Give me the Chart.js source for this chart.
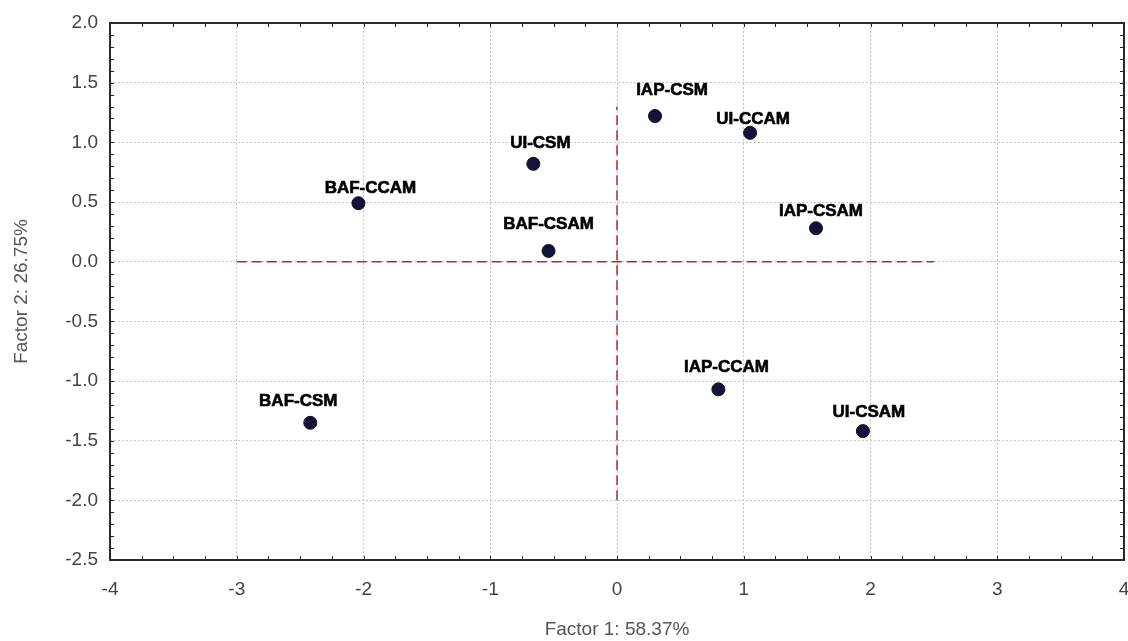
<!DOCTYPE html>
<html>
<head>
<meta charset="utf-8">
<script src="https://cdn.jsdelivr.net/npm/chart.js@4/dist/chart.umd.min.js"></script>
<style>
  html, body { margin: 0; padding: 0; background: #fff; }
  #wrap { width: 1128px; height: 641px; }
</style>
</head>
<body>
<div id="wrap"><canvas id="c" width="1128" height="641"></canvas></div>
<script>
// ---- data ----
const categories = ['BAF-CCAM', 'BAF-CSAM', 'BAF-CSM', 'IAP-CCAM', 'IAP-CSAM', 'IAP-CSM', 'UI-CCAM', 'UI-CSAM', 'UI-CSM'];
const factor1 = [-2.04, -0.54, -2.42, 0.80, 1.57, 0.30, 1.05, 1.94, -0.66];
const factor2 = [0.49, 0.09, -1.35, -1.07, 0.28, 1.22, 1.08, -1.42, 0.82];
const refLineX = [-3, 2.5];   // horizontal reference at factor2 = 0
const refLineY = [-2, 1.3];   // vertical reference at factor1 = 0
const xTicks = [-4, -3, -2, -1, 0, 1, 2, 3, 4];
const yTicks = [-2.5, -2.0, -1.5, -1.0, -0.5, 0.0, 0.5, 1.0, 1.5, 2.0];
const xTitle = 'Factor 1: 58.37%';
const yTitle = 'Factor 2: 26.75%';

// label placement (pixels, style only)
const labelDx = [12, 0, -12, 8, 5, 17, 3, 6, 7];
const labelDy = [-15, -27, -21, -22, -17, -26, -13, -19, -21];

const points = factor1.map((v, i) => ({ x: v, y: factor2[i] }));

const pointLabels = {
  id: 'pointLabels',
  afterDatasetsDraw(chart) {
    const ctx = chart.ctx;
    const meta = chart.getDatasetMeta(2);
    ctx.save();
    ctx.font = 'bold 17px "Liberation Sans", Arial, sans-serif';
    ctx.fillStyle = '#000';
    ctx.strokeStyle = '#000';
    ctx.lineWidth = 0.6;
    ctx.textAlign = 'center';
    ctx.textBaseline = 'middle';
    meta.data.forEach((el, i) => {
      ctx.fillText(categories[i], el.x + labelDx[i], el.y + labelDy[i]);
      ctx.strokeText(categories[i], el.x + labelDx[i], el.y + labelDy[i]);
    });
    ctx.restore();
  }
};

const frameTicks = {
  id: 'frameTicks',
  afterDraw(chart) {
    const ctx = chart.ctx;
    const a = chart.chartArea;
    const xs = chart.scales.x, ys = chart.scales.y;
    ctx.save();
    ctx.strokeStyle = '#222';
    ctx.lineWidth = 1;
    const len = 4;
    ctx.beginPath();
    for (let v = xs.min; v <= xs.max + 1e-9; v += 0.25) {
      const px = Math.round(xs.getPixelForValue(v)) + 0.5;
      ctx.moveTo(px, a.bottom); ctx.lineTo(px, a.bottom - len);
      ctx.moveTo(px, a.top); ctx.lineTo(px, a.top + len);
    }
    for (let v = ys.min; v <= ys.max + 1e-9; v += 0.1) {
      const py = Math.round(ys.getPixelForValue(v)) + 0.5;
      ctx.moveTo(a.left, py); ctx.lineTo(a.left + len, py);
      ctx.moveTo(a.right, py); ctx.lineTo(a.right - len, py);
    }
    ctx.stroke();
    ctx.strokeStyle = '#2a2a2a';
    ctx.lineWidth = 2;
    ctx.strokeRect(a.left, a.top, a.right - a.left, a.bottom - a.top);
    ctx.restore();
  }
};

const tickFont = { family: '"Liberation Sans", Arial, sans-serif', size: 19 };

new Chart(document.getElementById('c'), {
  type: 'scatter',
  data: {
    datasets: [
      {
        data: refLineX.map(v => ({ x: v, y: 0 })),
        showLine: true, borderColor: '#b52a2a', borderWidth: 1.5,
        borderDash: [10, 5], pointRadius: 0, order: 2
      },
      {
        data: refLineY.map(v => ({ x: 0, y: v })),
        showLine: true, borderColor: '#b52a2a', borderWidth: 1.5,
        borderDash: [10, 5], pointRadius: 0, order: 2
      },
      {
        data: points,
        backgroundColor: '#13133a', borderColor: '#0c0c2a', borderWidth: 1,
        pointRadius: 6.5, order: 1
      }
    ]
  },
  options: {
    responsive: false,
    animation: false,
    layout: { autoPadding: false, padding: { top: 23, right: 4, left: 0, bottom: 0 } },
    plugins: { legend: { display: false }, tooltip: { enabled: false } },
    scales: {
      x: {
        type: 'linear', min: -4, max: 4,
        afterBuildTicks(s) { s.ticks = xTicks.map(v => ({ value: v })); },
        afterFit(s) { s.height = 81; s.paddingLeft = 0; s.paddingRight = 0; },
        ticks: { color: '#444', font: tickFont, padding: 18, maxRotation: 0, callback: v => String(v) },
        grid: { color: '#c4c4c4', lineWidth: 1, drawTicks: false },
        border: { display: false, dash: [2, 2] },
        title: { display: true, text: xTitle, color: '#555', font: { family: '"Liberation Sans", Arial, sans-serif', size: 19 }, padding: { top: 0, bottom: 0 } }
      },
      y: {
        type: 'linear', min: -2.5, max: 2.0,
        afterBuildTicks(s) { s.ticks = yTicks.map(v => ({ value: v })); },
        afterFit(s) { s.width = 110; s.paddingTop = 0; s.paddingBottom = 0; },
        ticks: { color: '#444', font: tickFont, padding: 12, callback: v => Number(v).toFixed(1) },
        grid: { color: '#c4c4c4', lineWidth: 1, drawTicks: false },
        border: { display: false, dash: [2, 2] },
        title: { display: true, text: yTitle, color: '#555', font: { family: '"Liberation Sans", Arial, sans-serif', size: 19 }, padding: { top: 10, bottom: 0 } }
      }
    }
  },
  plugins: [pointLabels, frameTicks]
});
</script>
</body>
</html>
